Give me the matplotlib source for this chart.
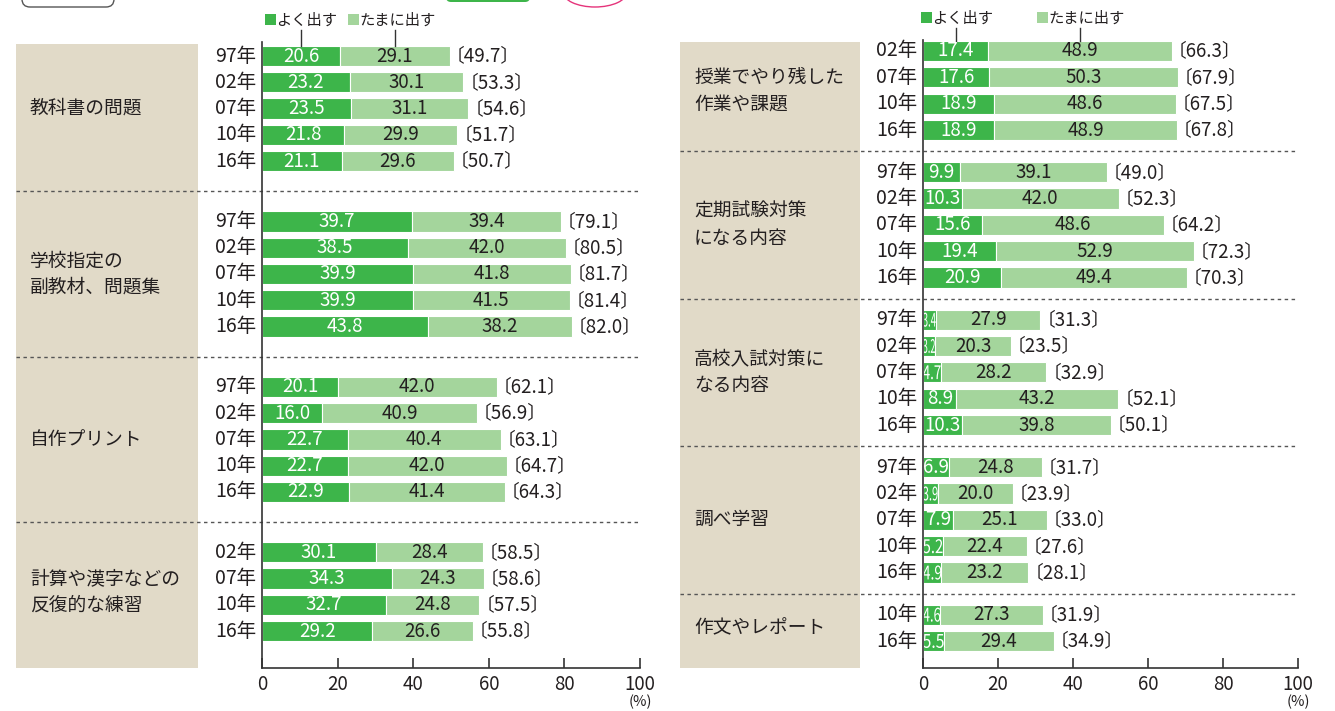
import matplotlib

matplotlib.use("Agg")
import matplotlib.pyplot as plt
from matplotlib.font_manager import FontProperties
from matplotlib.patches import FancyBboxPatch, PathPatch, Rectangle, Ellipse
from matplotlib.textpath import TextPath
from matplotlib.transforms import Affine2D, ScaledTranslation

plt.rcParams["font.family"] = ["Noto Sans CJK JP", "DejaVu Sans"]

# ---- data (left panel) ----
left_cats = ["教科書の問題", "学校指定の\n副教材、問題集", "自作プリント", "計算や漢字などの\n反復的な練習"]
left_years = [
    ["97年", "02年", "07年", "10年", "16年"],
    ["97年", "02年", "07年", "10年", "16年"],
    ["97年", "02年", "07年", "10年", "16年"],
    ["02年", "07年", "10年", "16年"],
]
left_often = [
    [20.6, 23.2, 23.5, 21.8, 21.1],
    [39.7, 38.5, 39.9, 39.9, 43.8],
    [20.1, 16.0, 22.7, 22.7, 22.9],
    [30.1, 34.3, 32.7, 29.2],
]
left_some = [
    [29.1, 30.1, 31.1, 29.9, 29.6],
    [39.4, 42.0, 41.8, 41.5, 38.2],
    [42.0, 40.9, 40.4, 42.0, 41.4],
    [28.4, 24.3, 24.8, 26.6],
]
left_total = [
    [49.7, 53.3, 54.6, 51.7, 50.7],
    [79.1, 80.5, 81.7, 81.4, 82.0],
    [62.1, 56.9, 63.1, 64.7, 64.3],
    [58.5, 58.6, 57.5, 55.8],
]

# ---- data (right panel) ----
right_cats = ["授業でやり残した\n作業や課題", "定期試験対策\nになる内容", "高校入試対策に\nなる内容", "調べ学習", "作文やレポート"]
right_years = [
    ["02年", "07年", "10年", "16年"],
    ["97年", "02年", "07年", "10年", "16年"],
    ["97年", "02年", "07年", "10年", "16年"],
    ["97年", "02年", "07年", "10年", "16年"],
    ["10年", "16年"],
]
right_often = [
    [17.4, 17.6, 18.9, 18.9],
    [9.9, 10.3, 15.6, 19.4, 20.9],
    [3.4, 3.2, 4.7, 8.9, 10.3],
    [6.9, 3.9, 7.9, 5.2, 4.9],
    [4.6, 5.5],
]
right_some = [
    [48.9, 50.3, 48.6, 48.9],
    [39.1, 42.0, 48.6, 52.9, 49.4],
    [27.9, 20.3, 28.2, 43.2, 39.8],
    [24.8, 20.0, 25.1, 22.4, 23.2],
    [27.3, 29.4],
]
right_total = [
    [66.3, 67.9, 67.5, 67.8],
    [49.0, 52.3, 64.2, 72.3, 70.3],
    [31.3, 23.5, 32.9, 52.1, 50.1],
    [31.7, 23.9, 33.0, 27.6, 28.1],
    [31.9, 34.9],
]

DARK = "#3db54a"
LIGHT = "#a4d59c"
BEIGE = "#e1dac8"
TEXT = "#231f20"
AXIS = "#333333"
W, H = 1335, 711

fig = plt.figure(figsize=(W / 100, H / 100), dpi=100)
fig.patch.set_facecolor("white")
overlay = fig.add_axes([0, 0, 1, 1], zorder=0)
overlay.set_xlim(0, W)
overlay.set_ylim(H, 0)
overlay.axis("off")
fp = FontProperties(family="Noto Sans CJK JP")


def squeezed_text(ax, x, y, s, size, color, width_px):
    tp = TextPath((0, 0), s, size=size, prop=fp)
    bb = tp.get_extents()
    scale = fig.dpi / 72
    squeeze = min(1.0, width_px / (bb.width * scale))
    tr = (
        Affine2D()
        .translate(-(bb.x0 + bb.x1) / 2, -(bb.y0 + bb.y1) / 2)
        .scale(scale * squeeze, scale)
        + ScaledTranslation(x, y, ax.transData)
    )
    ax.add_patch(PathPatch(tp, transform=tr, facecolor=color, edgecolor="none", clip_on=False))


def draw_panel(cats, years, often, some, total, ax_px, box_px, top_px, first_px, pitch, gap, legend):
    x0, x1 = ax_px
    bottom_px = 668
    ax = fig.add_axes(
        [x0 / W, 1 - bottom_px / H, (x1 - x0) / W, (bottom_px - top_px) / H], zorder=2
    )
    ax.set_facecolor("none")
    px_per_unit = (x1 - x0) / 100

    # beige box behind category labels
    overlay.add_patch(
        Rectangle((box_px[0], top_px + 2), box_px[1] - box_px[0], bottom_px - top_px - 2,
                  facecolor=BEIGE, edgecolor="none")
    )

    y = first_px
    for gi, cat in enumerate(cats):
        ys = []
        for yi, year in enumerate(years[gi]):
            ys.append(y)
            a, b, t = often[gi][yi], some[gi][yi], total[gi][yi]
            ax.barh(y, a, height=pitch * 0.77, color=DARK, edgecolor="white", linewidth=0.8)
            ax.barh(y, b, left=a, height=pitch * 0.77, color=LIGHT, edgecolor="white", linewidth=0.8)
            if a < 6:
                squeezed_text(ax, a / 2, y, f"{a:.1f}", 13.5, "white", max(a * px_per_unit, 11))
            else:
                ax.text(a / 2, y, f"{a:.1f}", ha="center", va="center", color="white", fontsize=13.5)
            ax.text(a + b / 2, y, f"{b:.1f}", ha="center", va="center", color=TEXT, fontsize=13.5)
            ax.annotate(f"〔{t:.1f}〕", (a + b, y), xytext=(-3, 0), textcoords="offset points",
                        ha="left", va="center", color=TEXT, fontsize=13.5)
            ax.annotate(year, (0, y), xytext=(-4, 0), textcoords="offset points",
                        ha="right", va="center", color=TEXT, fontsize=14, annotation_clip=False)
            y += pitch
        y += pitch * (gap - 1)
        overlay.text(box_px[0] + 14, (ys[0] + ys[-1]) / 2, cat, ha="left", va="center",
                     color=TEXT, fontsize=13.5, linespacing=1.35)
        if gi < len(cats) - 1:
            sep = ys[-1] + pitch * gap / 2
            overlay.plot([box_px[0], x1 - 2], [sep, sep], color="#555555", lw=1,
                         linestyle=(0, (2.5, 2.5)))

    ax.set_xlim(0, 100)
    ax.set_ylim(bottom_px, top_px)
    for side in ("top", "right"):
        ax.spines[side].set_visible(False)
    for side in ("left", "bottom"):
        ax.spines[side].set_color(AXIS)
        ax.spines[side].set_linewidth(1.2)
    ax.set_yticks([])
    ax.set_xticks([0, 20, 40, 60, 80, 100])
    ax.tick_params(axis="x", direction="in", length=7, width=1.2, color=AXIS,
                   labelsize=13.5, labelcolor=TEXT, pad=4)
    overlay.text(x1, 702, "(%)", ha="center", va="center", fontsize=10.5, color=TEXT)

    # legend with connector lines to first bar
    a0, b0 = often[0][0], some[0][0]
    (lx1, ly), (lx2, _) = legend
    for lx, label, color, cx in ((lx1, "よく出す", DARK, a0 / 2), (lx2, "たまに出す", LIGHT, a0 + b0 / 2)):
        overlay.add_patch(Rectangle((lx, ly - 6), 11, 11, facecolor=color, edgecolor="none"))
        overlay.text(lx + 11, ly, label, ha="left", va="center", fontsize=11, color=TEXT)
        ax.plot([cx, cx], [ly + 10, first_px - pitch * 0.385], color=AXIS, lw=1, clip_on=False)
    return ax


draw_panel(left_cats, left_years, left_often, left_some, left_total,
           (262, 640), (16, 198), 42, 56, 26.26, 2.3, ((265, 20), (348, 20)))
draw_panel(right_cats, right_years, right_often, right_some, right_total,
           (923, 1298), (680, 860), 40, 51, 26.34, 1.6, ((921, 18), (1037, 18)))

# cropped page decorations along the top edge
overlay.add_patch(FancyBboxPatch((22, -20), 92, 27, boxstyle="round,pad=0,rounding_size=8",
                                 facecolor="white", edgecolor="#555555", lw=1))
overlay.add_patch(FancyBboxPatch((446, -20), 84, 22, boxstyle="round,pad=0,rounding_size=5",
                                 facecolor="#3db54a", edgecolor="none"))
overlay.add_patch(Ellipse((595, -8), 64, 30, facecolor="white", edgecolor="#e5337a", lw=1))

fig.savefig("out.png", dpi=100)
